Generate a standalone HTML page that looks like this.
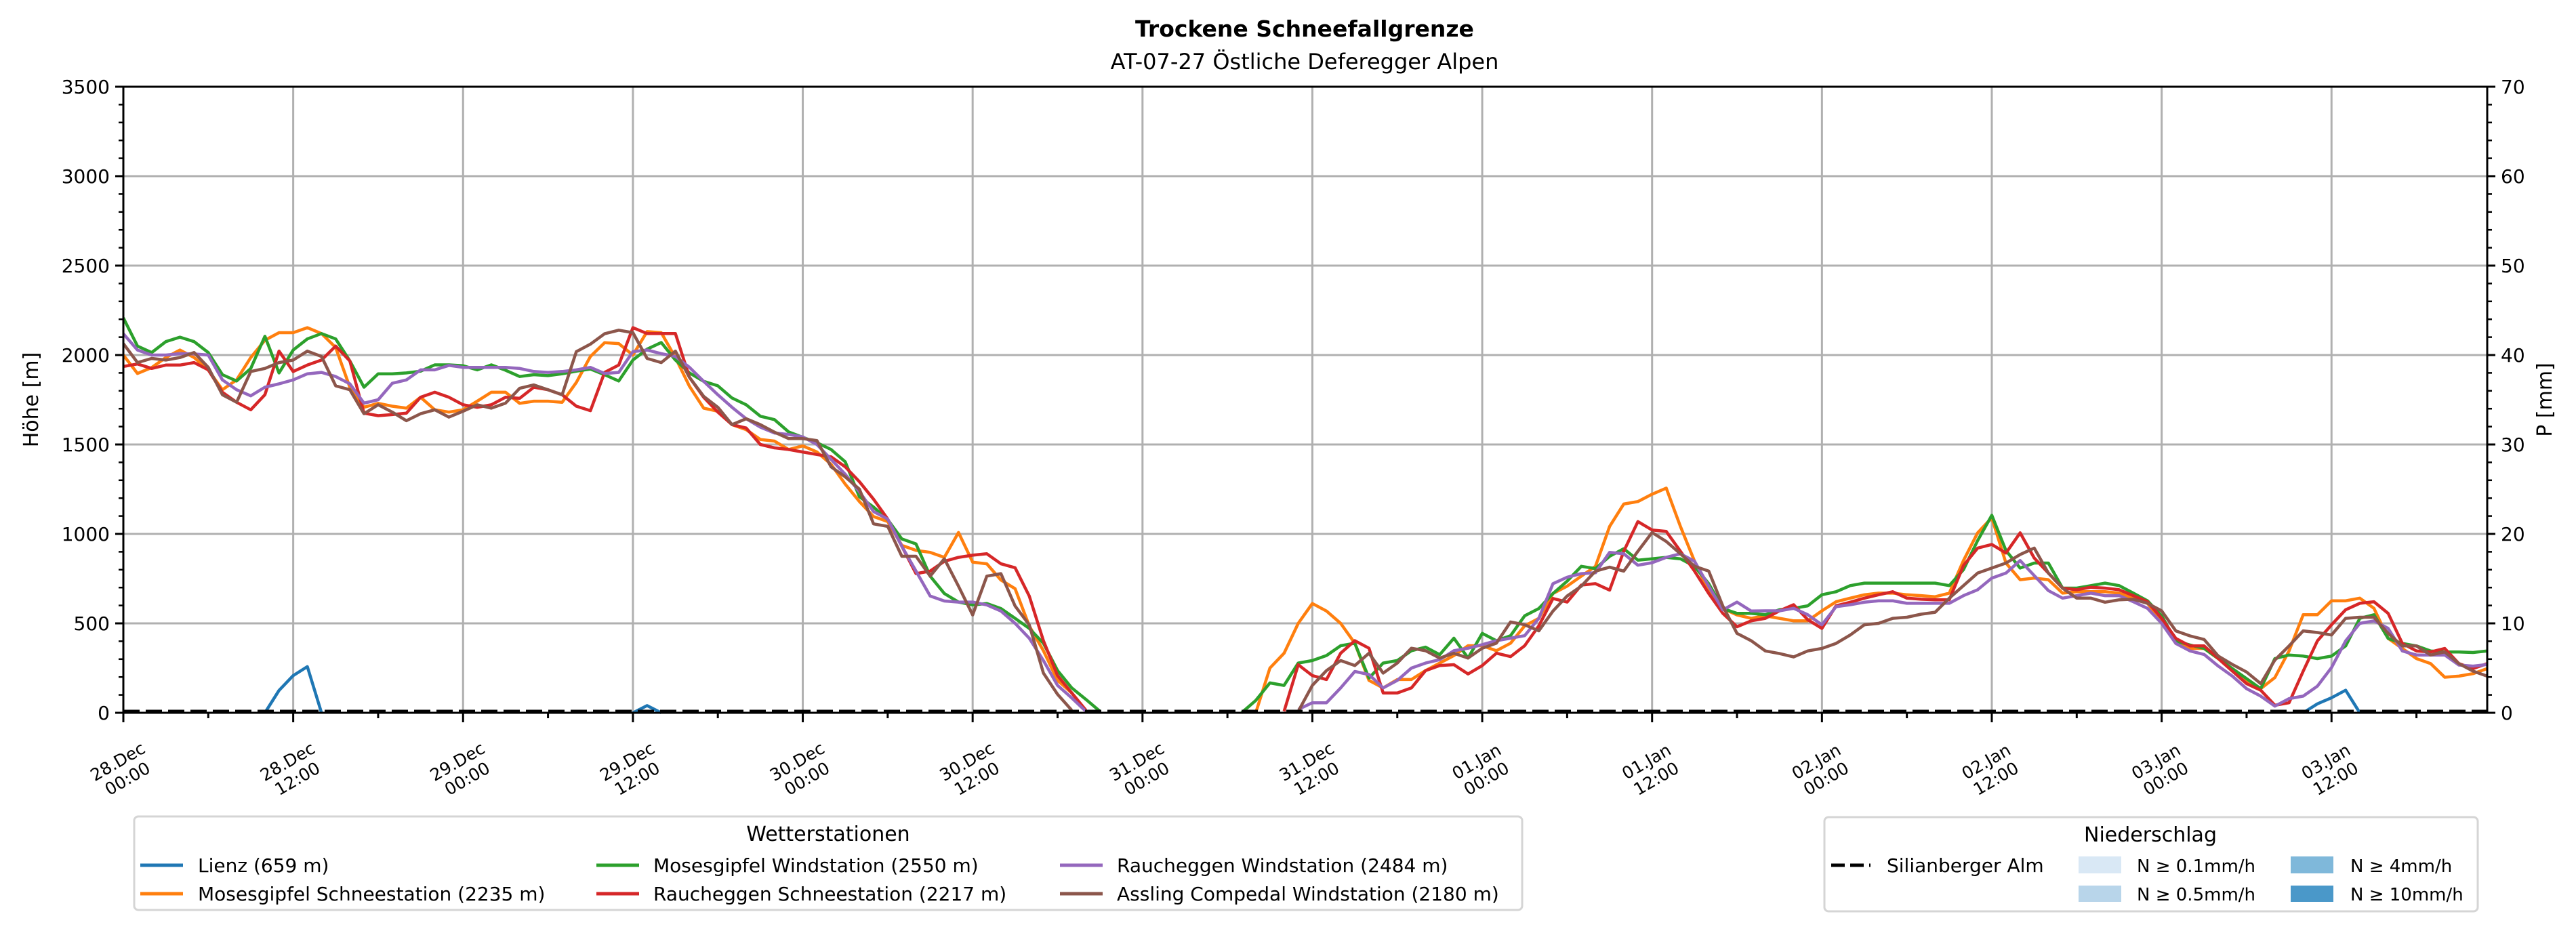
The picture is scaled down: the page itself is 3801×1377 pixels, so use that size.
<!DOCTYPE html>
<html><head><meta charset="utf-8"><title>Trockene Schneefallgrenze</title>
<style>
html,body{margin:0;padding:0;background:#fff;}
svg{display:block;font-family:"DejaVu Sans","Liberation Sans",sans-serif;}
</style></head>
<body>
<svg id="chart" xmlns="http://www.w3.org/2000/svg" width="3801" height="1377" viewBox="0 0 3801 1377">
<rect x="0" y="0" width="3801" height="1377" fill="#fff"/>
<text x="1925" y="54" text-anchor="middle" font-size="33" font-weight="bold">Trockene Schneefallgrenze</text>
<text x="1925" y="102" text-anchor="middle" font-size="32">AT-07-27 Östliche Deferegger Alpen</text>
<g id="grid"></g>
<defs><clipPath id="plotclip"><rect x="182" y="128" width="3488" height="926"/></clipPath></defs>
<g id="series" clip-path="url(#plotclip)"></g>
<g id="axes"></g>
<text x="0" y="0" transform="translate(56,590) rotate(-90)" text-anchor="middle" font-size="30">Höhe [m]</text>
<text x="0" y="0" transform="translate(3765,590) rotate(-90)" text-anchor="middle" font-size="30">P [mm]</text>

<g>
<rect x="198" y="1205" width="2048" height="138" rx="6" fill="#fff" stroke="#d5d5d5" stroke-width="3"/>
<text x="1222" y="1241" text-anchor="middle" font-size="30">Wetterstationen</text>
<g><line x1="207" y1="1277" x2="270" y2="1277" stroke="#1f77b4" stroke-width="5"/><text x="292" y="1287" font-size="28">Lienz (659 m)</text></g>
<g><line x1="207" y1="1319" x2="270" y2="1319" stroke="#ff7f0e" stroke-width="5"/><text x="292" y="1329" font-size="28">Mosesgipfel Schneestation (2235 m)</text></g>
<g><line x1="880" y1="1277" x2="943" y2="1277" stroke="#2ca02c" stroke-width="5"/><text x="964" y="1287" font-size="28">Mosesgipfel Windstation (2550 m)</text></g>
<g><line x1="880" y1="1319" x2="943" y2="1319" stroke="#d62728" stroke-width="5"/><text x="964" y="1329" font-size="28">Raucheggen Schneestation (2217 m)</text></g>
<g><line x1="1564" y1="1277" x2="1627" y2="1277" stroke="#9467bd" stroke-width="5"/><text x="1648" y="1287" font-size="28">Raucheggen Windstation (2484 m)</text></g>
<g><line x1="1564" y1="1319" x2="1627" y2="1319" stroke="#8c564b" stroke-width="5"/><text x="1648" y="1329" font-size="28">Assling Compedal Windstation (2180 m)</text></g>
</g>

<g>
<rect x="2692" y="1206" width="964" height="139" rx="6" fill="#fff" stroke="#d5d5d5" stroke-width="3"/>
<text x="3173" y="1242" text-anchor="middle" font-size="30">Niederschlag</text>
<g><line x1="2702" y1="1277" x2="2760" y2="1277" stroke="#000" stroke-width="5" stroke-dasharray="20,8"/><text x="2784" y="1287" font-size="28">Silianberger Alm</text></g>
<g><rect x="3067" y="1264" width="63" height="25" fill="#d9e8f5"/><text x="3153" y="1287" font-size="26">N ≥ 0.1mm/h</text></g>
<g><rect x="3067" y="1307" width="63" height="24" fill="#b8d5ea"/><text x="3153" y="1329" font-size="26">N ≥ 0.5mm/h</text></g>
<g><rect x="3380" y="1264" width="63" height="25" fill="#7fb8da"/><text x="3468" y="1287" font-size="26">N ≥ 4mm/h</text></g>
<g><rect x="3380" y="1307" width="63" height="24" fill="#4a98c9"/><text x="3468" y="1329" font-size="26">N ≥ 10mm/h</text></g>
</g>
</svg>
<script>
const n = null;
const xTickLabels = [["28.Dec","00:00"],["28.Dec","12:00"],["29.Dec","00:00"],["29.Dec","12:00"],["30.Dec","00:00"],["30.Dec","12:00"],["31.Dec","00:00"],["31.Dec","12:00"],["01.Jan","00:00"],["01.Jan","12:00"],["02.Jan","00:00"],["02.Jan","12:00"],["03.Jan","00:00"],["03.Jan","12:00"]];
const xTickHours = [0,12,24,36,48,60,72,84,96,108,120,132,144,156];
const yTicks = [0,500,1000,1500,2000,2500,3000,3500];
const y2Ticks = [0,10,20,30,40,50,60,70];
const silianbergerPrecip = [0,0];
const lienz = [n,n,n,n,n,n,n,n,n,n, 0,125,208,258,0,
 n,n,n,n,n,n,n,n,n,n,n,n,n,n,n,n,n,n,n,n,n, 0,40,0,
 n,n,n,n,n,n,n,n,n,n, n,n,n,n,n,n,n,n,n,n, n,n,n,n,n,n,n,n,n,n, n,n,n,n,n,n,n,n,n,n,
 n,n,n,n,n,n,n,n,n,n, n,n,n,n,n,n,n,n,n,n, n,n,n,n,n,n,n,n,n,n, n,n,n,n,n,n,n,n,n,n,
 n,n,n,n,n,n,n,n,n,n, n,n,n,n,n,n,n,n,n,n, n,n,n,n,n,n,n,n,n,n, n,n,n,n,n,
 0,50,84,126,0, n,n,n,n,n,n,n,n,n];
const moseWind = [2208,2050,2014,2075,2100,2075,2014,1890,1855,1925,
2105,1900,2028,2090,2120,2090,1967,1820,1895,1895,
1900,1910,1945,1945,1940,1917,1945,1915,1880,1890,
1885,1895,1910,1922,1890,1855,1972,2033,2070,1972,
1900,1853,1828,1760,1722,1658,1639,1570,1540,1510,
1472,1403,1208,1150,1080,972,944,764,667,619,
603,611,583,528,472,389,236,139,75,8,
n,n,n,n,n,n,n,n,n,0,
69,167,153,278,292,320,375,389,194,278,
292,347,367,325,417,306,444,403,431,542,
583,667,736,819,806,875,917,853,861,869,
861,819,722,583,556,556,548,576,584,598,
660,677,711,725,725,725,725,725,725,711,
800,963,1104,907,809,837,837,697,697,711,
725,711,669,626,542,402,379,360,303,247,
191,135,303,323,317,303,317,374,528,548,
416,388,374,346,340,340,337,346];
const moseSchnee = [2000,1897,1930,1986,2028,1986,1917,1806,1861,1986,
2083,2125,2125,2153,2120,2042,1820,1708,1730,1714,
1703,1764,1694,1681,1694,1742,1792,1792,1730,1742,
1742,1736,1847,1992,2069,2064,2000,2131,2125,1986,
1825,1703,1686,1611,1583,1528,1519,1472,1492,1458,
1389,1278,1181,1097,1069,936,908,897,869,1008,
842,833,742,694,486,347,181,111,14,n,
n,n,n,n,n,n,n,n,n,n,
0,250,333,500,611,569,500,389,181,139,
186,186,236,278,320,375,375,347,389,486,
528,667,708,764,819,1042,1167,1181,1222,1256,
1042,847,681,583,547,528,542,528,514,514,
570,621,641,660,669,669,660,655,649,669,
851,1006,1090,837,744,753,744,669,677,677,
677,669,641,612,514,388,360,360,303,233,
177,135,197,346,548,548,626,626,641,584,
416,360,303,275,199,205,219,247];
const rauchSchnee = [1936,1950,1925,1944,1944,1958,1917,1792,1736,1694,
1778,2022,1908,1944,1972,2050,1967,1675,1661,1667,
1675,1764,1792,1764,1722,1708,1722,1764,1758,1820,
1806,1778,1714,1689,1903,1944,2153,2120,2120,2120,
1875,1764,1681,1611,1592,1500,1481,1472,1458,1444,
1431,1375,1292,1194,1083,931,778,792,847,869,
881,889,833,811,653,403,208,111,14,n,
n,n,n,n,n,n,n,n,n,n,
n,n,8,269,208,186,333,403,361,111,
111,139,236,264,269,217,264,333,314,375,
486,639,619,714,722,686,903,1069,1022,1014,
903,792,667,556,481,514,528,570,604,520,
472,598,618,641,660,677,641,635,632,632,
823,921,941,893,1006,865,781,697,688,702,
697,688,655,621,528,416,374,374,303,233,
163,126,42,56,233,402,492,576,612,621,
556,388,346,340,360,275,247,275];
const rauchWind = [2119,2028,2000,2000,2008,2006,2000,1861,1806,1772,
1820,1839,1861,1895,1903,1880,1839,1731,1750,1842,
1861,1917,1917,1942,1931,1931,1931,1931,1925,1908,
1903,1908,1917,1931,1897,1903,2019,2028,2008,1992,
1931,1853,1778,1708,1644,1597,1564,1556,1542,1500,
1417,1333,1236,1125,1083,931,792,653,625,619,
619,603,569,500,417,292,153,83,8,n,
n,n,n,n,n,n,n,n,n,n,
n,n,n,19,56,56,139,231,214,139,
181,250,278,297,347,361,381,403,417,431,
528,722,758,778,783,897,889,825,839,869,
889,847,708,575,619,569,570,570,584,548,
492,593,604,618,626,626,612,612,612,612,
655,688,753,781,851,767,683,641,655,669,
655,655,621,584,500,388,346,326,261,205,
135,93,37,79,93,149,253,402,500,514,
472,346,323,323,323,267,261,270];
const assling = [2064,1958,1981,1972,1986,2014,1931,1778,1736,1908,
1925,1958,1972,2022,1992,1828,1806,1672,1722,1681,
1633,1672,1694,1653,1686,1722,1703,1731,1814,1833,
1806,1778,2019,2061,2119,2139,2125,1981,1958,2022,
1875,1769,1708,1611,1644,1611,1569,1533,1533,1522,
1375,1319,1250,1056,1042,875,875,764,861,708,
547,764,778,597,492,222,103,14,n,n,
n,n,n,n,n,n,n,n,n,n,
n,n,n,8,153,236,292,264,333,222,
278,361,347,306,333,306,361,389,508,492,
458,569,653,708,792,814,792,903,1008,958,
889,819,792,597,444,403,346,331,312,346,
360,388,435,492,500,528,534,551,562,641,
711,781,809,837,885,921,781,697,641,641,
618,632,635,612,570,458,430,410,317,270,
228,163,295,374,458,449,435,528,534,534,
444,374,374,323,340,275,233,205];

const NS = "http://www.w3.org/2000/svg";
const PL = 182, PR = 3670, PT = 128, PB = 1052, HMAX = 167, YMAX = 3500, PMAX = 70;
function xs(h){ return PL + h * (PR - PL) / HMAX; }
function ys(v){ return PB - v * (PB - PT) / YMAX; }
function ys2(p){ return PB - p * (PB - PT) / PMAX; }
function mk(tag, attrs, parent){ const e = document.createElementNS(NS, tag); for (const k in attrs) e.setAttribute(k, attrs[k]); parent.appendChild(e); return e; }

const grid = document.getElementById('grid');
const axes = document.getElementById('axes');
const series = document.getElementById('series');

xTickHours.forEach(function(h){
  const l = mk('line', {x1: xs(h), x2: xs(h), y1: PT, y2: PB, stroke: '#b0b0b0', 'stroke-width': 3}, grid);
  
  
});
yTicks.forEach(function(v){
  const l = mk('line', {x1: PL, x2: PR, y1: ys(v), y2: ys(v), stroke: '#b0b0b0', 'stroke-width': 3}, grid);
  
  
});

const seriesList = [
  {name: 'line-lienz', data: lienz, color: '#1f77b4'},
  {name: 'line-mosesgipfel-schnee', data: moseSchnee, color: '#ff7f0e'},
  {name: 'line-mosesgipfel-wind', data: moseWind, color: '#2ca02c'},
  {name: 'line-raucheggen-schnee', data: rauchSchnee, color: '#d62728'},
  {name: 'line-raucheggen-wind', data: rauchWind, color: '#9467bd'},
  {name: 'line-assling', data: assling, color: '#8c564b'}
];
seriesList.forEach(function(s){
  let d = '', pen = false;
  s.data.forEach(function(v, h){
    if (v === null || v === undefined) { pen = false; return; }
    d += (pen ? 'L' : 'M') + xs(h).toFixed(1) + ',' + ys(v).toFixed(1);
    pen = true;
  });
  const p = mk('path', {d: d, fill: 'none', stroke: s.color, 'stroke-width': 4.5, 'stroke-linejoin': 'round'}, series);
  
  
});
const sil = mk('line', {x1: xs(0), x2: xs(HMAX), y1: ys2(silianbergerPrecip[0]) - 2, y2: ys2(silianbergerPrecip[1]) - 2, stroke: '#000', 'stroke-width': 5, 'stroke-dasharray': '24,9'}, series);



const frame = mk('rect', {x: PL, y: PT, width: PR - PL, height: PB - PT, fill: 'none', stroke: '#000', 'stroke-width': 3}, axes);



for (let v = 0; v <= YMAX; v += 100) {
  const major = v % 500 === 0;
  const t = mk('line', {x1: PL - (major ? 12 : 7), x2: PL, y1: ys(v), y2: ys(v), stroke: '#000', 'stroke-width': major ? 3 : 2.5}, axes);
  
  
}
yTicks.forEach(function(v){
  const t = mk('text', {x: PL - 20, y: ys(v) + 10, 'text-anchor': 'end', 'font-size': 28}, axes);
  t.textContent = String(v);
  
  
});
for (let p = 0; p <= PMAX; p += 2) {
  const major = p % 10 === 0;
  const t = mk('line', {x1: PR, x2: PR + (major ? 12 : 7), y1: ys2(p), y2: ys2(p), stroke: '#000', 'stroke-width': major ? 3 : 2.5}, axes);
  
  
}
y2Ticks.forEach(function(p){
  const t = mk('text', {x: PR + 20, y: ys2(p) + 10, 'text-anchor': 'start', 'font-size': 28}, axes);
  t.textContent = String(p);
  
  
});
for (let h = 0; h <= HMAX; h += 6) {
  const major = h % 12 === 0;
  const t = mk('line', {x1: xs(h), x2: xs(h), y1: PB, y2: PB + (major ? 14 : 8), stroke: '#000', 'stroke-width': 3}, axes);
  
  
}
xTickHours.forEach(function(h, i){
  const cx = xs(h) - 2, cy = 1135;
  const t = mk('text', {x: cx, y: cy, 'text-anchor': 'middle', 'font-size': 25, transform: 'rotate(-30 ' + cx + ' ' + cy + ')'}, axes);
  const a = mk('tspan', {x: cx, dy: -4}, t);
  a.textContent = xTickLabels[i][0];
  const b = mk('tspan', {x: cx, dy: 29}, t);
  b.textContent = xTickLabels[i][1];
  
  
});
</script>
</body></html>
